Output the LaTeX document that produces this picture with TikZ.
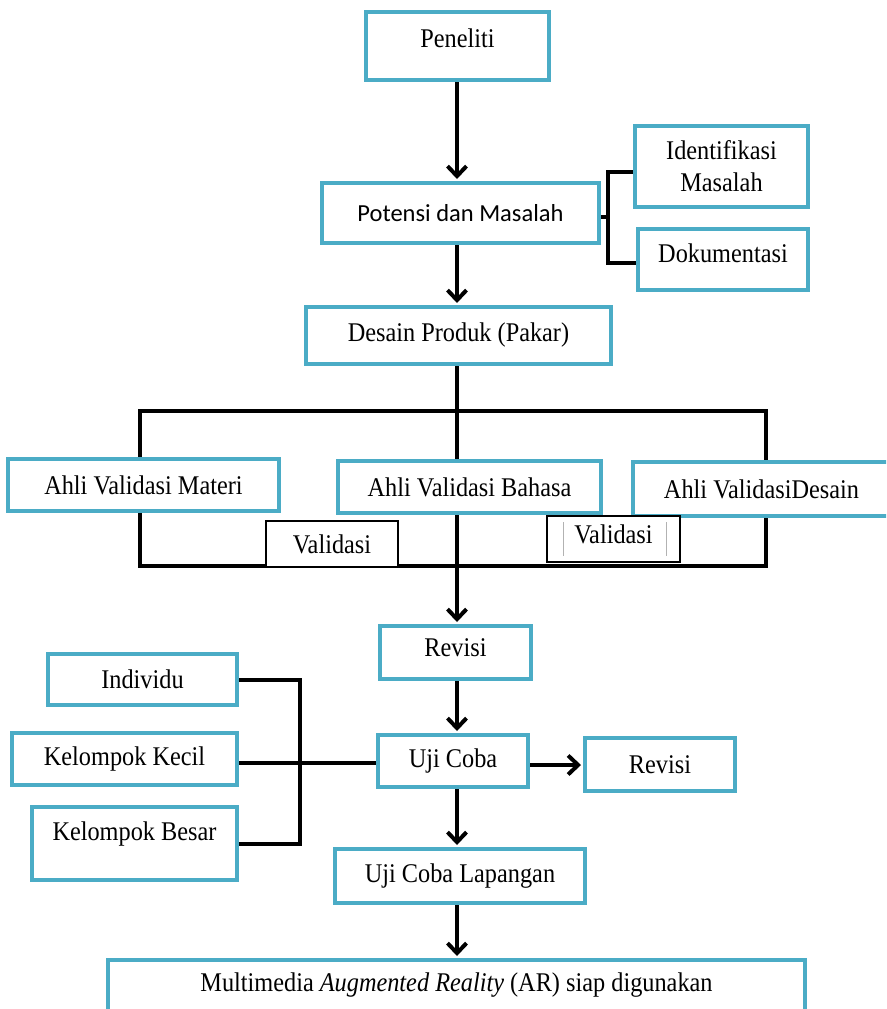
\documentclass[tikz,border=0pt]{standalone}
\usepackage{fontspec}
\setmainfont{Liberation Serif}[FakeStretch=0.9]
\newfontfamily\calib{Carlito}
\usetikzlibrary{arrows.meta,backgrounds}
\definecolor{aqua}{RGB}{75,172,198}
\tikzset{
  box/.style={draw=aqua, line width=4pt, fill=white, align=center, inner sep=0pt,
    font=\fontsize{27}{32}\selectfont},
  vbox/.style={draw=black, line width=1.2pt, fill=white, align=center, inner sep=0pt,
    font=\fontsize{27}{32}\selectfont},
  conn/.style={line width=4pt, draw=black},
  arr/.style={conn, shorten >=2pt, -{Straight Barb[length=10pt,width=19pt,line width=4pt]}}
}
\begin{document}
\begin{tikzpicture}[x=1pt,y=-1pt]
\useasboundingbox (0,0) rectangle (886,1009);
\clip (0,0) rectangle (886,1009);
% nodes
\node[box, minimum width=183, minimum height=68] (pen) at (457.5,46) {\raisebox{5pt}[0.7em][0.2em]{Peneliti}};
\node[box, minimum width=277, minimum height=60, font=\calib\fontsize{24.5}{29}\selectfont] (pot) at (460.5,213) {Potensi dan Masalah};
\node[box, minimum width=173, minimum height=81] (idf) at (721.5,166.5) {Identifikasi\\Masalah};
\node[box, minimum width=170, minimum height=61] (dok) at (723,259.5) {\raisebox{4pt}[0.7em][0.2em]{Dokumentasi}};
\node[box, minimum width=305, minimum height=57] (des) at (458.5,335.5) {Desain Produk (Pakar)};
\node[box, minimum width=271, minimum height=52] (mat) at (143.5,485) {Ahli Validasi Materi};
\node[box, minimum width=263, minimum height=52] (bah) at (469.5,487) {Ahli Validasi Bahasa};
\node[box, minimum width=257, minimum height=54] (dsn) at (761.5,489) {Ahli ValidasiDesain};
\node[vbox, minimum width=132, minimum height=46] (va1) at (332,544) {Validasi};
\node[vbox, minimum width=133, minimum height=46] (va2) at (613.5,539) {\raisebox{2pt}[0.7em][0.2em]{Validasi}};
\node[box, minimum width=151, minimum height=53] (rev) at (455.5,652.5) {\raisebox{3pt}[0.7em][0.2em]{Revisi}};
\node[box, minimum width=150, minimum height=52] (uji) at (453,761) {Uji Coba};
\node[box, minimum width=150, minimum height=53] (rv2) at (660,764.5) {Revisi};
\node[box, minimum width=189, minimum height=51] (ind) at (142.5,679.5) {Individu};
\node[box, minimum width=225, minimum height=52] (kec) at (124.5,759) {Kelompok Kecil};
\node[box, minimum width=205, minimum height=73] (bes) at (134.5,843.5) {\raisebox{10pt}[0.7em][0.2em]{Kelompok Besar}};
\node[box, minimum width=250, minimum height=54] (lap) at (460,876) {Uji Coba Lapangan};
\node[box, minimum width=697, minimum height=70] (mul) at (456.5,995) {\raisebox{10pt}[0.7em][0.2em]{Multimedia \textit{Augmented Reality} (AR) siap digunakan}};
% coordinates
\coordinate (bx) at (608,217);
\coordinate (tl) at (140,411);
\coordinate (br) at (766,566);
\coordinate (lb) at (300,763);
\coordinate (cx) at (457,0);
\begin{scope}[on background layer]
  \draw[arr] (cx |- pen.south) -- (cx |- pot.north);
  \draw[arr] (cx |- pot.south) -- (cx |- des.north);
  \draw[conn] (pot.east |- bx) -- (bx);
  \draw[conn] ([yshift=-5pt]idf.west) -| (bx) |- ([yshift=-3pt]dok.west);
  \draw[conn] (tl) rectangle (br);
  \draw[arr] (cx |- des.south) -- (cx |- rev.north);
  \draw[arr] (cx |- rev.south) -- (cx |- uji.north);
  \draw[arr] ([yshift=-4pt]uji.east) -- ([yshift=-4pt]uji.east -| rv2.west);
  \draw[conn] (ind.east) -| (lb) |- (bes.east);
  \draw[conn] ([yshift=-4pt]kec.east) -- ([yshift=-4pt]kec.east -| uji.west);
  \draw[arr] (cx |- uji.south) -- (cx |- lap.north);
  \draw[arr] (cx |- lap.south) -- (cx |- mul.north);
\end{scope}
\draw[gray!60, line width=0.8pt] (563,522) -- (563,556) (666,522) -- (666,556);
\end{tikzpicture}
\end{document}
